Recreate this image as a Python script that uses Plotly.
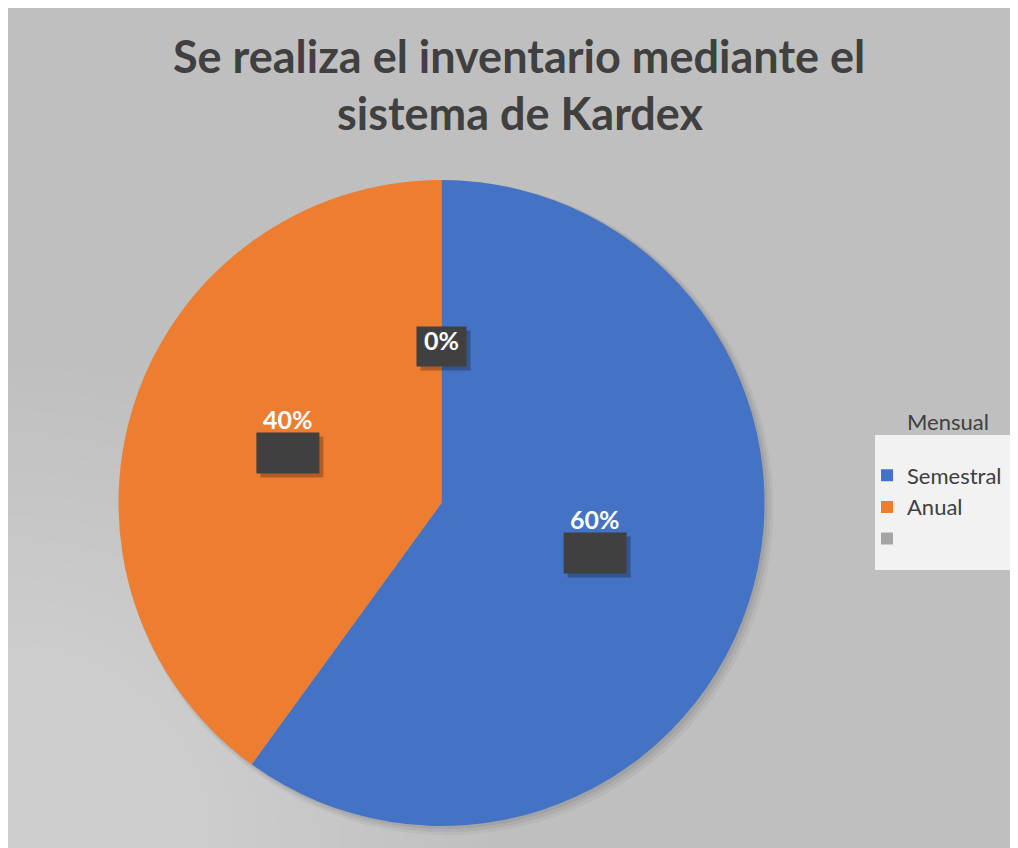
import math
import plotly.graph_objects as go

# datos del gráfico
categorias = ["Semestral", "Anual", " "]
valores = [60, 40, 0]
colores = ["#4472C4", "#ED7D31", "#A5A5A5"]
titulo_l1 = "Se realiza el inventario mediante el"
titulo_l2 = "sistema de Kardex"
titulo_leyenda = "Mensual"

OFF = 8                        # margen del body de la página
W, H = 1018 - OFF, 848 - OFF
CX, CY, R = 441.5, 503, 323    # centro y radio del pastel en px de la página


def px(x):
    return (x - OFF) / W


def py(y):
    return 1 - (y - OFF) / H


fig = go.Figure()
fig.add_trace(go.Pie(
    labels=categorias,
    values=valores,
    marker=dict(colors=colores, line=dict(width=0)),
    sort=False,
    direction="clockwise",
    rotation=0,
    textinfo="none",
    hoverinfo="label+percent",
    domain=dict(x=[px(CX - R), px(CX + R)], y=[py(CY + R), py(CY - R)]),
))

shapes = []
# fondo gris con degradado hacia la esquina inferior izquierda
shapes.append(dict(type="rect", xref="paper", yref="paper", x0=0, x1=1, y0=0, y1=1,
                   fillcolor="#bfbfbf", line=dict(width=0), layer="below"))
for k in range(22):
    rad = 480 - k * 21
    shapes.append(dict(type="circle", xref="paper", yref="paper",
                       x0=px(8 - rad), x1=px(8 + rad), y0=py(848 + rad), y1=py(848 - rad),
                       fillcolor="rgba(255,255,255,0.02)", line=dict(width=0), layer="below"))
# sombra del pastel
for d, op in [(9, 0.04), (6, 0.05), (3, 0.06)]:
    shapes.append(dict(type="circle", xref="paper", yref="paper",
                       x0=px(CX - R + 2), x1=px(CX + R + d), y0=py(CY + R + d), y1=py(CY - R + 1),
                       fillcolor=f"rgba(0,0,0,{op})", line=dict(width=0), layer="below"))
# caja de la leyenda
shapes.append(dict(type="rect", xref="paper", yref="paper", x0=px(875), x1=px(1015),
                   y0=py(570), y1=py(435), fillcolor="#f2f2f2", line=dict(width=0), layer="below"))

# etiquetas de datos (posición calculada desde los valores)
annotations = []
total = sum(valores)
acum = 0
for v in valores:
    ang = 2 * math.pi * (acum + v / 2) / total
    acum += v
    bx = CX + 0.5 * R * math.sin(ang)
    by = CY - 0.5 * R * math.cos(ang)
    pct = f"{round(100 * v / total)}%"
    if v == 0:
        bw, bh = 50, 40
        by = by + 5
        ty = by - 6
    else:
        bw, bh = 63, 41
        ty = by - 34
    shapes.append(dict(type="rect", xref="paper", yref="paper",
                       x0=px(bx - bw / 2 + 4), x1=px(bx + bw / 2 + 4),
                       y0=py(by + bh / 2 + 4), y1=py(by - bh / 2 + 4),
                       fillcolor="rgba(0,0,0,0.25)", line=dict(width=0), layer="above"))
    shapes.append(dict(type="rect", xref="paper", yref="paper",
                       x0=px(bx - bw / 2), x1=px(bx + bw / 2),
                       y0=py(by + bh / 2), y1=py(by - bh / 2),
                       fillcolor="#404040", line=dict(width=0), layer="above"))
    annotations.append(dict(text=f"<b>{pct}</b>", x=px(bx), y=py(ty), xref="paper", yref="paper",
                            xanchor="center", yanchor="middle", showarrow=False,
                            font=dict(family="Lato", size=25, color="white")))

annotations.append(dict(text=f"<b>{titulo_l1}</b>", x=px(519), y=py(56), xref="paper", yref="paper",
                        xanchor="center", yanchor="middle", showarrow=False,
                        font=dict(family="Lato", size=45, color="#404040")))
annotations.append(dict(text=f"<b>{titulo_l2}</b>", x=px(520), y=py(113), xref="paper", yref="paper",
                        xanchor="center", yanchor="middle", showarrow=False,
                        font=dict(family="Lato", size=45, color="#404040")))
annotations.append(dict(text=titulo_leyenda, x=px(948), y=py(421), xref="paper", yref="paper",
                        xanchor="center", yanchor="middle", showarrow=False,
                        font=dict(family="Lato", size=22, color="#404040")))

fig.update_layout(
    width=W, height=H,
    margin=dict(l=0, r=0, t=0, b=0),
    paper_bgcolor="white",
    shapes=shapes,
    annotations=annotations,
    showlegend=True,
    legend=dict(
        x=px(867), y=py(507), xanchor="left", yanchor="middle",
        bgcolor="rgba(0,0,0,0)", borderwidth=0,
        font=dict(family="Lato", size=22, color="#404040"),
        itemwidth=30,
    ),
    font=dict(family="Lato"),
)

fig.write_html("out.html")
